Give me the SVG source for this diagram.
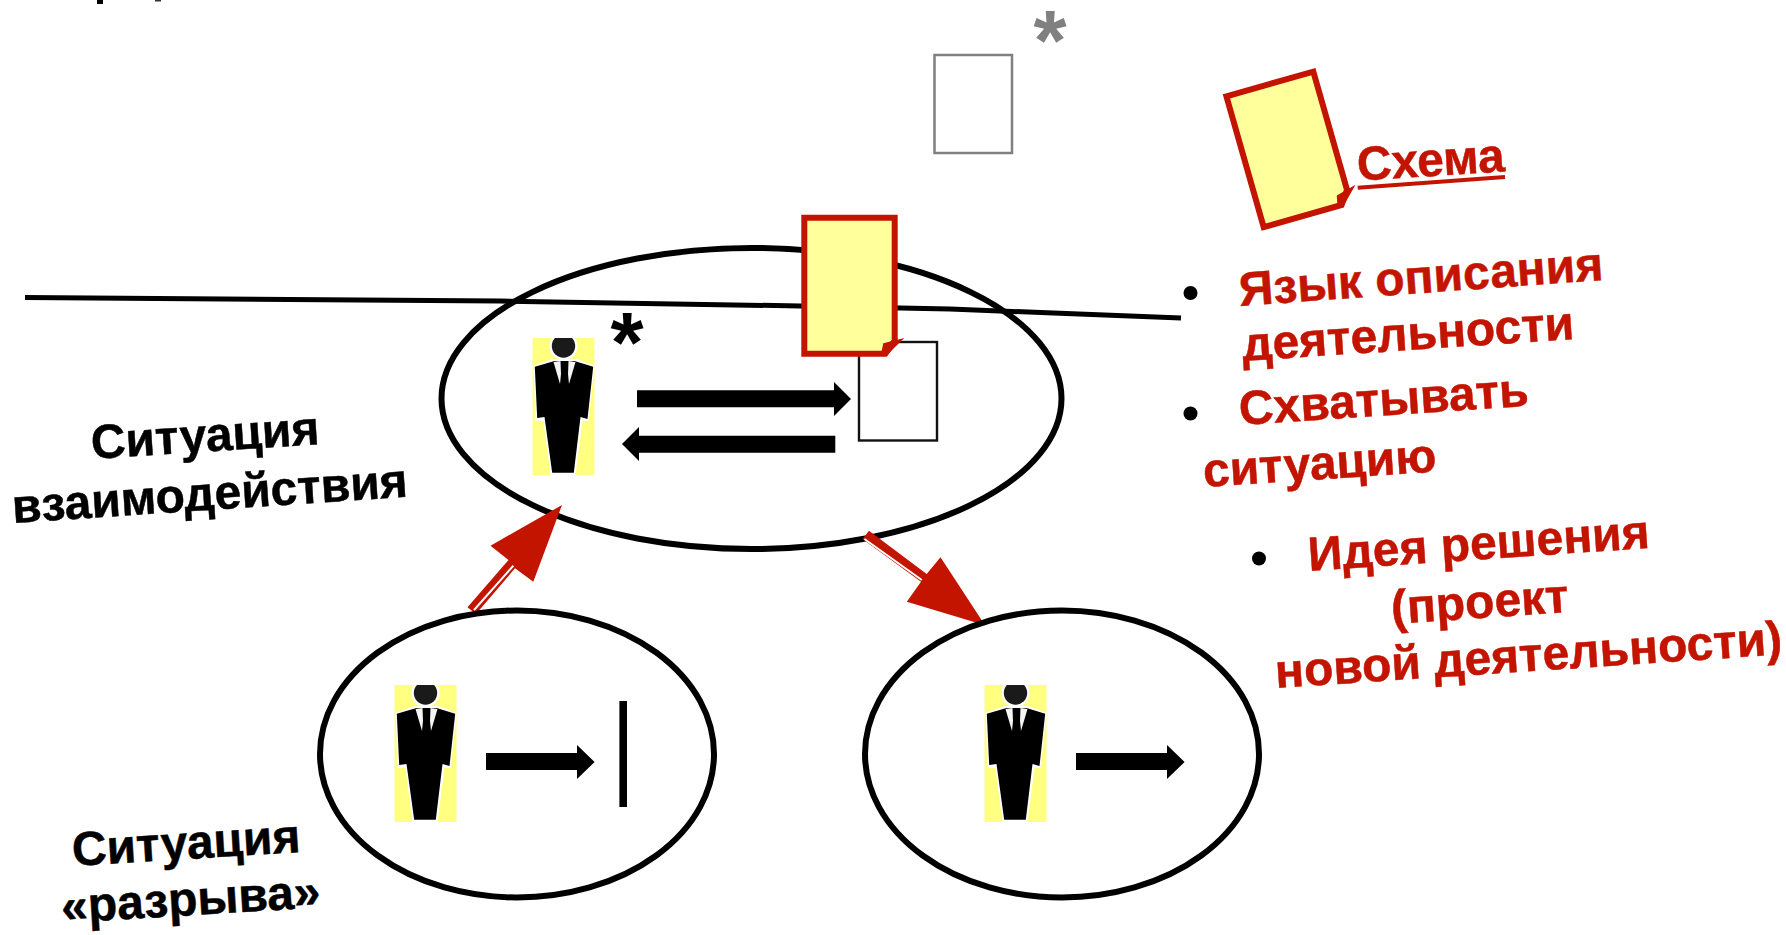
<svg xmlns="http://www.w3.org/2000/svg" xmlns:xlink="http://www.w3.org/1999/xlink" width="1786" height="935" viewBox="0 0 1786 935">
<style>
.e{fill:none;stroke:#000;stroke-width:6}
.r{fill:#c31400}
.k{fill:#000}
.t{font-family:"Liberation Sans",Arial,sans-serif;font-weight:700;font-size:48px;stroke-width:.5px}
.tr{fill:#c31400;stroke:#c31400}
.tk{fill:#000;stroke:#000}
.star{font-family:"Liberation Sans",Arial,sans-serif;font-weight:700;font-size:85px;text-anchor:middle}
</style>
<defs>
<symbol id="person" width="63" height="137" viewBox="0 0 62 137" overflow="hidden">
<rect width="62" height="137" fill="#ffff80"/>
<circle cx="31" cy="8" r="14" fill="#fff"/>
<path d="M1,28 L20,21 H44 L62,28 L56,83 H50 L43,137 H18 L11,83 H3 Z" fill="#fff"/>
<circle cx="31" cy="8" r="11.7" fill="#1a1a1a"/>
<path d="M2.3,28.7 L22,23 H42 L60.7,28.7 L55,81 L48,79 L41.3,134.7 H19.7 L12,79 L4.7,80 Z" fill="#000"/>
<path d="M21,24 L28,23 L28.5,36 L27.5,46 Z M36,23 L43,24 L36.5,46 L35.5,36 Z" fill="#f4f4f4"/>
</symbol>
<g id="sheet">
<path d="M3,3 H93.4 V126 L84,139 H3 Z" fill="#ffff9c" stroke="#c31400" stroke-width="6"/>
<path d="M103,123.3 L82,128.6 L80.4,136 L84.7,141.3 Z" class="r"/>
</g>
</defs>
<g id="top-fragments">
<rect x="97" y="0" width="6" height="4" fill="#000"/>
<rect x="155" y="0" width="6" height="1.5" fill="#333"/>
</g>
<g id="gray-sheet">
<rect x="934.5" y="55" width="77.5" height="98" fill="#fff" stroke="#808080" stroke-width="2.5"/>
<text class="star" x="1050" y="70" fill="#808080">*</text>
</g>
<g id="situation-interaction">
<ellipse class="e" cx="751.5" cy="398.5" rx="310" ry="150.5"/>
<use href="#person" x="532" y="338" width="63" height="137"/>
<text class="star" x="627" y="372" fill="#000">*</text>
<rect x="859" y="342" width="78" height="98.5" fill="#fff" stroke="#111" stroke-width="2.4"/>
</g>
<g id="connectors">
<path d="M25,297.5 C200,298 350,299 500,301 L800,306 L950,309 C1030,312 1100,315 1181,318" fill="none" stroke="#000" stroke-width="5"/>
<path class="k" d="M637,390.3 H834 V382 L851,399 L834,416 V407.3 H637 Z"/>
<path class="k" d="M835.3,435.7 H639 V427 L622,444 L639,461 V452.7 H835.3 Z"/>
<path class="k" d="M486,753 H577 V745 L594.6,762 L577,779 V770 H486 Z"/>
<path class="k" d="M1076,753 H1167 V745 L1184.6,762 L1167,779 V770 H1076 Z"/>
<path class="r" d="M562,505 L533.3,581.7 L515,568.3 L476,614 L467.5,607.3 L508.5,560 L490.5,545.7 Z"/>
<path d="M474,610 L513.4,565.7" stroke="#fff" stroke-width="2" fill="none"/>
<path class="r" d="M985,625.3 L906.8,601.7 L921,581.7 L862.5,539 L869,530.7 L926.7,574 L940.5,557.3 Z"/>
<path d="M864.4,539 L921.8,580" stroke="#fff" stroke-width="2" fill="none"/>
</g>
<g id="main-sheet"><use href="#sheet" x="801.3" y="214.7"/></g>
<g id="situation-gap">
<ellipse class="e" cx="517" cy="754" rx="197" ry="143.5"/>
<use href="#person" x="394" y="685" width="63" height="137"/>
<rect x="619.4" y="701" width="7.6" height="106" class="k"/>
</g>
<g id="situation-result">
<ellipse class="e" cx="1062" cy="754" rx="197" ry="143.5"/>
<use href="#person" x="984" y="685" width="63" height="137"/>
</g>
<g id="legend-sheet">
<use href="#sheet" transform="translate(1222.7,94.3) rotate(-15.9)"/>
<text class="t tr" transform="translate(1358,180.7) rotate(-3.6)">Схема</text>
<path d="M1357.7,187.7 L1505,177" stroke="#c31400" stroke-width="4" fill="none"/>
</g>
<g id="bullets">
<circle cx="1190.5" cy="293" r="7" fill="#000"/>
<circle cx="1190.5" cy="413.5" r="7" fill="#000"/>
<circle cx="1259" cy="558.5" r="7" fill="#000"/>
<text class="t tr" transform="translate(1240,306) rotate(-4.1)">Язык описания</text>
<text class="t tr" transform="translate(1243,361) rotate(-3.8)">деятельности</text>
<text class="t tr" transform="translate(1240,425) rotate(-3.8)">Схватывать</text>
<text class="t tr" transform="translate(1204,487) rotate(-3.8)">ситуацию</text>
<text class="t tr" transform="translate(1309,571) rotate(-3.9)">Идея решения</text>
<text class="t tr" transform="translate(1392,624) rotate(-3.9)">(проект</text>
<text class="t tr" transform="translate(1276,688) rotate(-3.8)">новой деятельности)</text>
</g>
<g id="labels">
<text class="t tk" transform="translate(92,459) rotate(-3.7)">Ситуация</text>
<text class="t tk" transform="translate(13,523) rotate(-3.8)">взаимодействия</text>
<text class="t tk" transform="translate(73,866) rotate(-3.5)">Ситуация</text>
<text class="t tk" transform="translate(62,923) rotate(-3.5)">«разрыва»</text>
</g>
</svg>
